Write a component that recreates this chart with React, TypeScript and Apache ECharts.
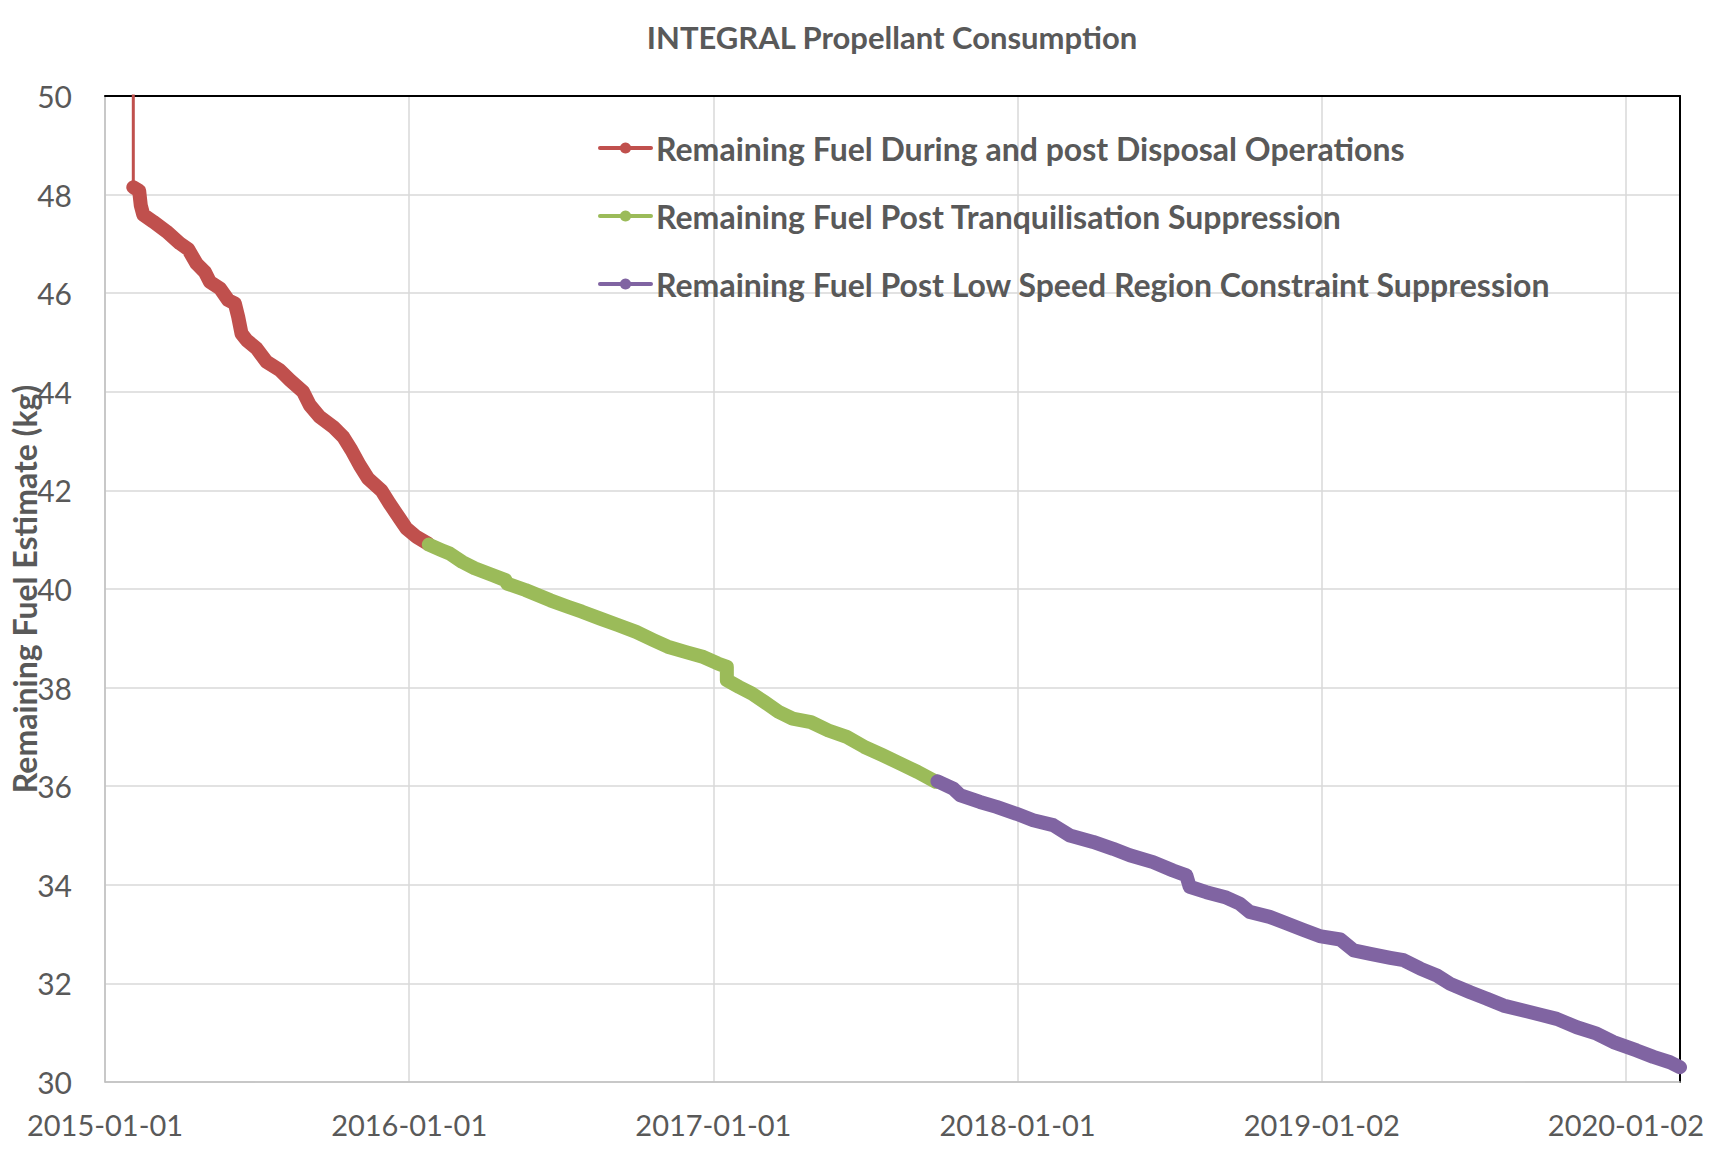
import React, { useEffect, useRef } from "react";
import * as echarts from "echarts";

// x values: days since 2015-01-01
const xTickLabels = ["2015-01-01", "2016-01-01", "2017-01-01", "2018-01-01", "2019-01-02", "2020-01-02"];
const xTickStep = 365.4;
const xMaxDay = 1892;

const startDays = [34, 34];
const startFuel = [52, 48.15];

const redDays = [34, 41, 43, 46, 58, 74, 90, 100, 110, 120, 126, 138, 148, 156, 160, 164, 170, 182, 194, 210, 222, 238, 246, 258, 274, 286, 296, 306, 316, 332, 342, 354, 362, 374, 388];
const redFuel = [48.15, 48.08, 47.78, 47.59, 47.45, 47.25, 47.01, 46.89, 46.6, 46.43, 46.23, 46.1, 45.86, 45.79, 45.52, 45.18, 45.05, 44.88, 44.61, 44.44, 44.24, 44.0, 43.73, 43.49, 43.29, 43.09, 42.82, 42.51, 42.24, 42.0, 41.73, 41.43, 41.23, 41.06, 40.92];

const greenDays = [389, 404, 414, 429, 444, 466, 481, 483, 505, 535, 556, 573, 595, 616, 638, 659, 676, 698, 719, 736, 747, 747, 762, 777, 792, 809, 826, 848, 869, 891, 912, 934, 955, 976, 998];
const greenFuel = [40.9, 40.79, 40.72, 40.55, 40.42, 40.28, 40.18, 40.11, 39.98, 39.77, 39.64, 39.54, 39.4, 39.27, 39.13, 38.96, 38.83, 38.72, 38.62, 38.49, 38.42, 38.15, 38.01, 37.88, 37.71, 37.51, 37.37, 37.3, 37.13, 37.0, 36.8, 36.63, 36.46, 36.29, 36.09];

const purpleDays = [1000, 1019, 1027, 1051, 1071, 1095, 1115, 1139, 1159, 1187, 1211, 1231, 1259, 1283, 1299, 1303, 1323, 1347, 1363, 1375, 1399, 1419, 1439, 1459, 1484, 1500, 1520, 1544, 1560, 1580, 1600, 1616, 1640, 1660, 1680, 1704, 1728, 1744, 1768, 1792, 1812, 1840, 1860, 1880, 1892];
const purpleFuel = [36.1, 35.95, 35.82, 35.68, 35.58, 35.44, 35.31, 35.21, 35.0, 34.87, 34.73, 34.6, 34.46, 34.29, 34.19, 33.96, 33.85, 33.74, 33.62, 33.45, 33.35, 33.22, 33.09, 32.96, 32.89, 32.67, 32.6, 32.52, 32.47, 32.3, 32.16, 31.99, 31.82, 31.69, 31.55, 31.45, 31.35, 31.28, 31.11, 30.98, 30.81, 30.64, 30.51, 30.4, 30.3];

const seriesNames = [
  "Remaining Fuel During and post Disposal Operations",
  "Remaining Fuel Post Tranquilisation Suppression",
  "Remaining Fuel Post Low Speed Region Constraint Suppression",
];
const seriesColors = ["#C0504D", "#9BBB59", "#8064A2"];

const zip = (a: number[], b: number[]) => a.map((v, i) => [v, b[i]]);

const TEXT = "#595959";
const FONT = "Lato";

export default function App() {
  const ref = useRef<HTMLDivElement>(null);
  useEffect(() => {
    if (!ref.current) return;
    const chart = echarts.init(ref.current, null, { renderer: "svg" });
    const mainLine = (name: string, color: string, data: number[][]) => ({
      name,
      type: "line",
      data,
      symbol: "circle",
      showSymbol: false,
      color,
      clip: false,
      lineStyle: { width: 14, color, cap: "round", join: "round" },
      xAxisIndex: 0,
      yAxisIndex: 0,
    });
    chart.setOption({
      animation: false,
      backgroundColor: "#fff",
      title: {
        text: "INTEGRAL Propellant Consumption",
        left: 892,
        top: 21,
        padding: 0,
        textAlign: "center",
        textStyle: { color: TEXT, fontFamily: FONT, fontWeight: "bold", fontSize: 31 },
      },
      legend: {
        data: seriesNames,
        orient: "vertical",
        left: 598,
        top: 132,
        padding: 0,
        itemWidth: 51,
        itemHeight: 14,
        itemGap: 36,
        lineStyle: { width: 4 },
        textStyle: { color: TEXT, fontFamily: FONT, fontWeight: "bold", fontSize: 32 },
      },
      grid: { left: 105, right: 37, top: 96, bottom: 91, containLabel: false, outerBoundsMode: "none" },
      xAxis: [
        {
          type: "value",
          min: 0,
          max: xMaxDay,
          interval: xTickStep,
          axisLine: { show: true, lineStyle: { color: "#BFBFBF", width: 1.5 } },
          axisTick: { show: false },
          splitLine: { show: true, lineStyle: { color: "#D9D9D9", width: 1.5 } },
          axisLabel: {
            margin: 28,
            showMaxLabel: false,
            color: TEXT,
            fontFamily: FONT,
            fontSize: 29,
            formatter: (v: number) => {
              const k = Math.round(v / xTickStep);
              return Math.abs(v - k * xTickStep) < 0.5 && xTickLabels[k] ? xTickLabels[k] : "";
            },
          },
        },
        {
          type: "value",
          position: "top",
          min: 0,
          max: xMaxDay,
          axisLine: { show: true, onZero: false, lineStyle: { color: "#000", width: 2 } },
          axisTick: { show: false },
          axisLabel: { show: false },
          splitLine: { show: false },
        },
      ],
      yAxis: [
        {
          type: "value",
          min: 30,
          max: 50,
          interval: 2,
          name: "Remaining Fuel Estimate (kg)",
          nameLocation: "middle",
          nameGap: 65,
          nameMoveOverlap: false,
          nameTextStyle: { color: TEXT, fontFamily: FONT, fontWeight: "bold", fontSize: 32 },
          axisLine: { show: true, lineStyle: { color: "#BFBFBF", width: 1.5 } },
          axisTick: { show: false },
          splitLine: { show: true, lineStyle: { color: "#D9D9D9", width: 1.5 } },
          axisLabel: { margin: 33, color: TEXT, fontFamily: FONT, fontSize: 30 },
        },
        {
          type: "value",
          position: "right",
          min: 30,
          max: 50,
          axisLine: { show: true, onZero: false, lineStyle: { color: "#000", width: 2 } },
          axisTick: { show: false },
          axisLabel: { show: false },
          splitLine: { show: false },
        },
      ],
      series: [
        {
          type: "line",
          data: zip(startDays, startFuel),
          symbol: "none",
          color: seriesColors[0],
          lineStyle: { width: 3, color: seriesColors[0] },
          xAxisIndex: 0,
          yAxisIndex: 0,
        },
        mainLine(seriesNames[0], seriesColors[0], zip(redDays, redFuel)),
        mainLine(seriesNames[1], seriesColors[1], zip(greenDays, greenFuel)),
        mainLine(seriesNames[2], seriesColors[2], zip(purpleDays, purpleFuel)),
      ],
    });
    return () => chart.dispose();
  }, []);
  return (
    <div
      ref={ref}
      style={{ position: "absolute", left: 0, top: 0, width: 1717, height: 1173, background: "#fff" }}
    />
  );
}
